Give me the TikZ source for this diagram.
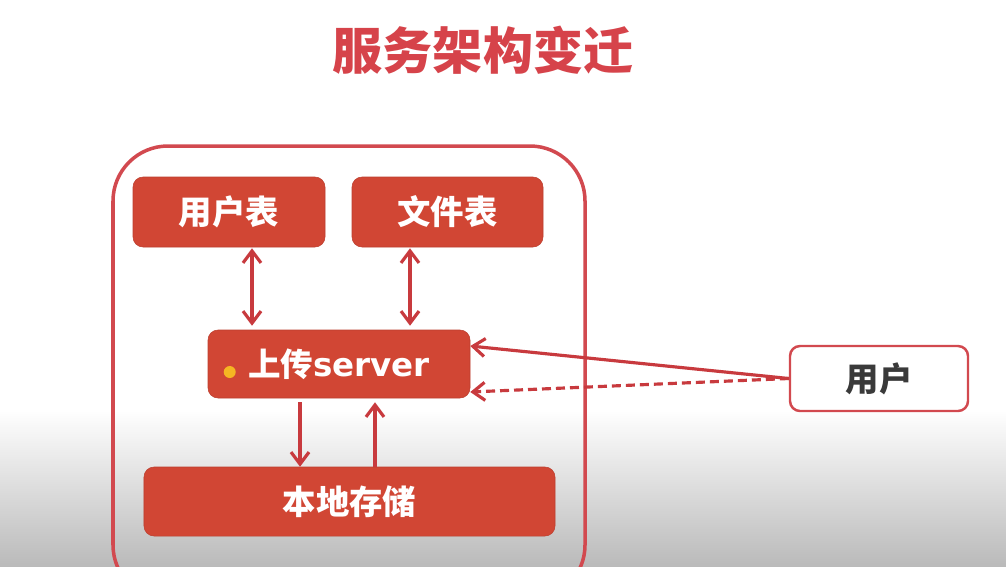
\documentclass[tikz,border=0pt]{standalone}
\usepackage{fontspec}
\setmainfont{Noto Sans CJK SC}
\newfontfamily\latinfont{DejaVu Sans}
\usepackage{xcolor}
\usepackage{tikz}
\usetikzlibrary{arrows.meta,positioning,calc}
\definecolor{svred}{HTML}{D14634}
\definecolor{svline}{HTML}{C83A3E}
\definecolor{svtitle}{HTML}{D6434A}
\definecolor{svframe}{HTML}{D2494F}
\definecolor{svtext}{HTML}{3A3A3A}
\definecolor{svdot}{HTML}{F5B523}
\tikzset{
  tbl/.style={rectangle, rounded corners=2mm, fill=svred, draw=svred!90!black, line width=0.3pt,
              text=white, align=center, font=\fontsize{19}{21}\selectfont\bfseries, inner sep=0pt},
  usr/.style={rectangle, rounded corners=2mm, fill=white, draw=svframe, line width=1.4pt,
              text=svtext, align=center, font=\fontsize{19}{21}\selectfont\bfseries, inner sep=0pt},
  ar/.style={-{Straight Barb[length=2.4mm,width=3.6mm]}, draw=svline, line width=1.8pt},
  dar/.style={{Straight Barb[length=2.4mm,width=3.6mm]}-{Straight Barb[length=2.4mm,width=3.6mm]}, draw=svline, line width=1.8pt},
}
\begin{document}
\begin{tikzpicture}[x=0.2mm,y=-0.2mm]
\useasboundingbox (0,0) rectangle (1006,566);
\clip (0,0) rectangle (1006,566);
\fill[white] (0,0) rectangle (1006,566);
\shade[top color=white, bottom color=black!27] (0,410) rectangle (1006,566);

\node[text=svtitle, font=\fontsize{28.5}{32}\selectfont\bfseries] (title) at (483,50) {服务架构变迁};

% outer frame, cut at the bottom
\draw[draw=svframe, line width=2pt, rounded corners=11mm] (113,146) rectangle (585,600);

\node[tbl, minimum width=38.4mm, minimum height=14mm] (ut) at (229,212) {用户表};
\node[tbl, minimum width=38.2mm, minimum height=14mm] (ft) at (447.5,212) {文件表};
\node[tbl, minimum width=52.4mm, minimum height=13.6mm, font=\fontsize{18.5}{21}\selectfont\bfseries] (srv) at (339,364) {上传{\latinfont server}};
\node[tbl, minimum width=82.2mm, minimum height=13.8mm] (st) at (349.5,501.5) {本地存储};
\node[usr, minimum width=35.6mm, minimum height=13mm] (user) at (879,378.5) {用户};
\fill[svdot] ($(srv.west)+(22,8)$) circle (1.2mm);

\coordinate (a1) at ($(ut.south)+(23,0)$);
\coordinate (a2) at ($(ft.south)+(-37.5,0)$);
\coordinate (a3) at ($(srv.south)+(-39,0)$);
\coordinate (a4) at ($(st.north)+(25.5,0)$);
\draw[dar, shorten <=0.2mm, shorten >=0.8mm] (a1) -- (a1 |- srv.north);
\draw[dar, shorten <=0.2mm, shorten >=0.8mm] (a2) -- (a2 |- srv.north);
\draw[ar, shorten <=0.8mm] (a3) -- (a3 |- st.north);
\draw[ar, shorten >=0.8mm] (a4) -- (a4 |- srv.south);
\draw[ar] (user.west) -- ($(srv.east)+(0,-18)$);
\draw[ar, dash pattern=on 1.8mm off 1mm] (user.west) -- ($(srv.east)+(0,28)$);
\end{tikzpicture}
\end{document}
